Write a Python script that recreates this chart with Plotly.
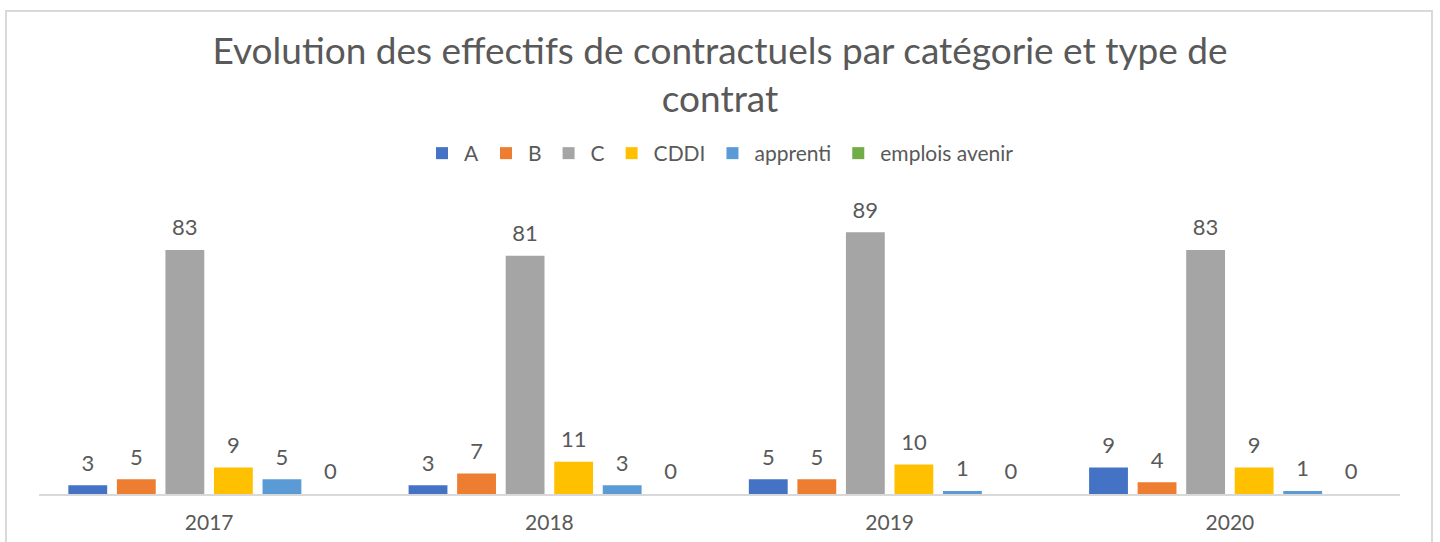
import plotly.graph_objects as go

years = ["2017", "2018", "2019", "2020"]
series_names = ["A", "B", "C", "CDDI", "apprenti", "emplois avenir"]
vals_A = [3, 3, 5, 9]
vals_B = [5, 7, 5, 4]
vals_C = [83, 81, 89, 83]
vals_CDDI = [9, 11, 10, 9]
vals_apprenti = [5, 3, 1, 1]
vals_emplois = [0, 0, 0, 0]
colors = ["#4472C4", "#ED7D31", "#A5A5A5", "#FFC000", "#5B9BD5", "#70AD47"]

all_vals = [vals_A, vals_B, vals_C, vals_CDDI, vals_apprenti, vals_emplois]

FONT = "Lato"
TXT = "#595959"

fig = go.Figure()
for i, (name, vals, col) in enumerate(zip(series_names, all_vals, colors)):
    fig.add_trace(go.Bar(
        x=years, y=vals, name=name, marker_color=col, marker_line_width=0,
        offsetgroup=str(i), alignmentgroup="g",
    ))
for i, (name, vals, col) in enumerate(zip(series_names, all_vals, colors)):
    fig.add_trace(go.Scatter(
        x=years, y=vals, mode="markers+text", text=[str(v) for v in vals],
        textposition="top center", offsetgroup=str(i), alignmentgroup="g",
        marker=dict(size=13, opacity=0), showlegend=False, hoverinfo="skip",
        textfont=dict(family=FONT, size=22, color=TXT),
    ))

L, R, T, B = 39, 40, 200, 48
W, H = 1440, 542
pw, ph = W - L - R, H - T - B

def px_x(p):
    return (p - L) / pw

def px_y(p):
    return (H - B - p) / ph

fig.update_layout(
    width=W, height=H,
    margin=dict(l=L, r=R, t=T, b=B, autoexpand=False),
    paper_bgcolor="white", plot_bgcolor="white",
    barmode="group", bargap=0.144, bargroupgap=0.2,
    scattermode="group", scattergap=0.144,
    title=dict(
        text="Evolution des effectifs de contractuels par catégorie et type de<br>contrat",
        x=0.5, xanchor="center", y=1 - 64 / H, yanchor="top",
        font=dict(family=FONT, size=37, color=TXT),
    ),
    legend=dict(
        orientation="h", x=0.5, xanchor="center", y=px_y(133), yanchor="top",
        font=dict(family=FONT, size=21, color=TXT), itemwidth=34,
        traceorder="normal",
    ),
    xaxis=dict(
        showline=True, linecolor="#D9D9D9", linewidth=2, showgrid=False,
        ticks="outside", ticklen=9, tickcolor="rgba(0,0,0,0)", automargin=False,
        tickfont=dict(family=FONT, size=21, color=TXT),
    ),
    yaxis=dict(range=[0, 100], visible=False, showgrid=False, zeroline=False,
               automargin=False),
    shapes=[dict(
        type="rect", xref="paper", yref="paper",
        x0=px_x(6), x1=px_x(1432), y0=px_y(570), y1=px_y(11),
        line=dict(color="#D9D9D9", width=2), fillcolor="rgba(0,0,0,0)",
        layer="below",
    )],
)

fig.write_html(
    "out.html",
    config={"displayModeBar": False},
    post_script="document.body.style.margin='0';document.body.style.overflow='hidden';",
)
